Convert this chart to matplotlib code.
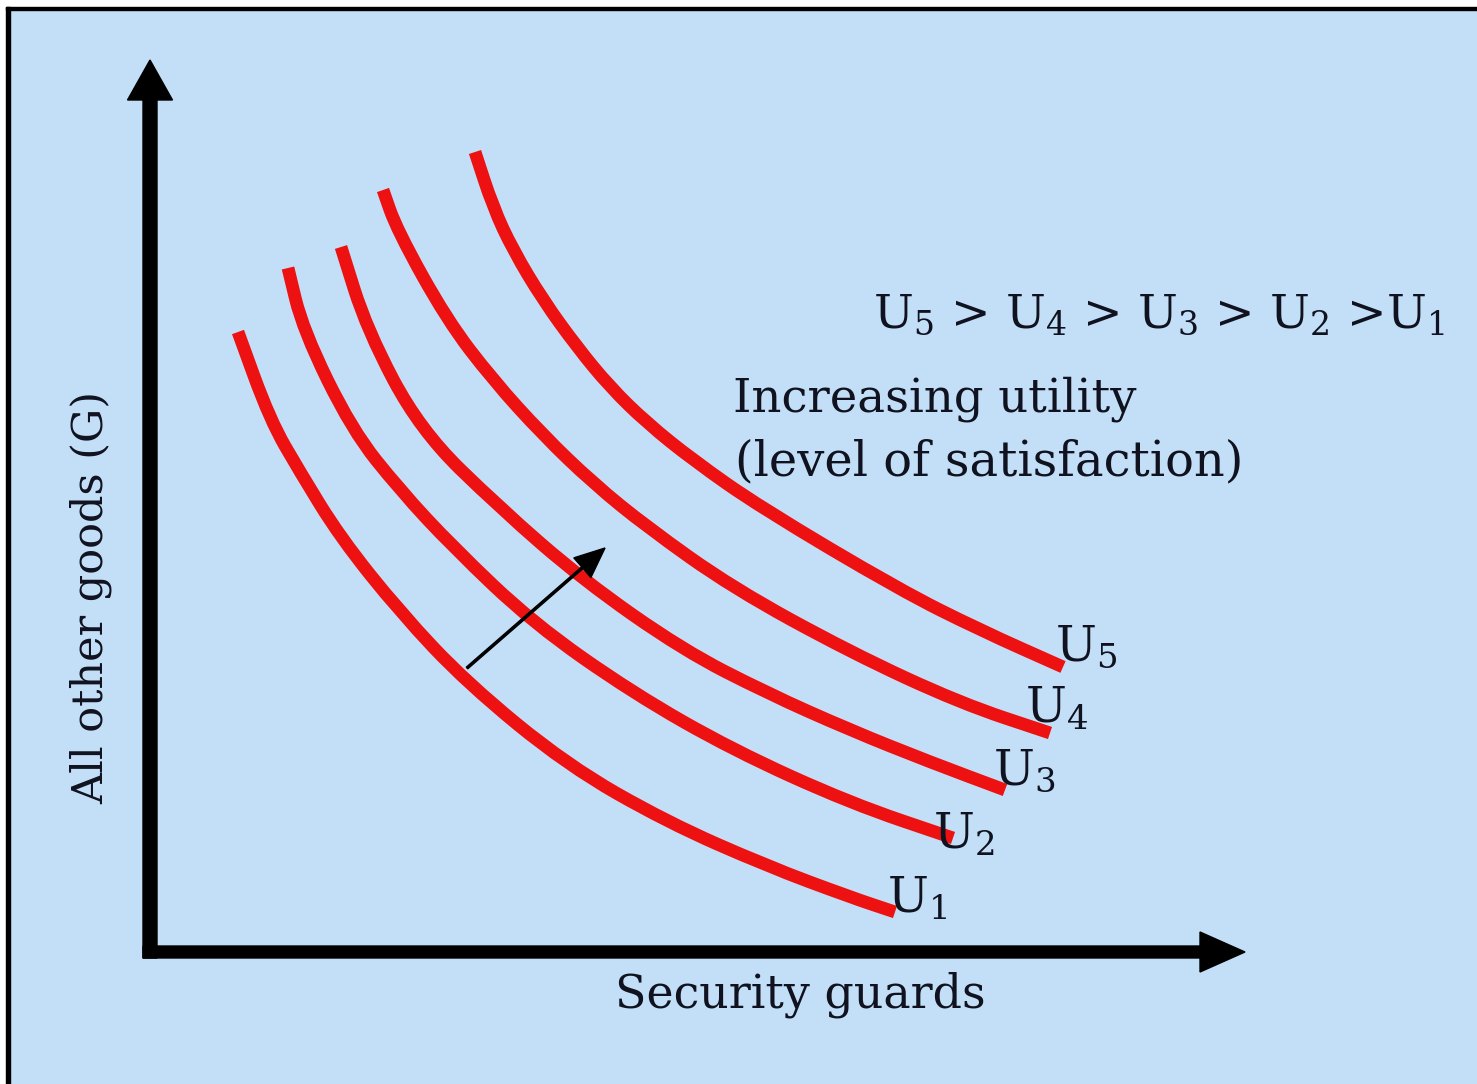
# Indifference curves: security guards vs all other goods
# five utility levels, U5 > U4 > U3 > U2 > U1

import matplotlib
matplotlib.use("Agg")
import matplotlib.pyplot as plt
from matplotlib.patches import Rectangle, PathPatch
from matplotlib.path import Path

plt.rcParams['font.family'] = ['DejaVu Serif']
plt.rcParams['mathtext.fontset'] = 'dejavuserif'

# points (guards, other goods)
u1_x = [0.88, 1.20, 1.50, 1.90, 2.50, 3.17, 4.17, 5.17, 6.17, 7.00, 7.45]
u1_y = [6.20, 5.32, 4.80, 4.15, 3.40, 2.69, 1.87, 1.30, 0.86, 0.55, 0.40]

u2_x = [1.38, 1.53, 2.02, 2.50, 3.03, 3.83, 4.83, 5.83, 7.00, 8.03]
u2_y = [6.84, 6.22, 5.22, 4.62, 4.05, 3.29, 2.59, 2.02, 1.49, 1.14]

u3_x = [1.91, 2.17, 2.70, 3.50, 4.33, 5.33, 6.17, 7.00, 7.80, 8.55]
u3_y = [7.05, 6.22, 5.22, 4.44, 3.72, 3.02, 2.59, 2.22, 1.90, 1.62]

u4_x = [2.33, 2.47, 2.97, 3.43, 3.93, 4.43, 4.97, 5.83, 7.00, 8.10, 9.00]
u4_y = [7.62, 7.22, 6.32, 5.72, 5.17, 4.69, 4.25, 3.64, 3.00, 2.49, 2.19]

u5_x = [3.25, 3.43, 3.63, 3.93, 4.27, 4.60, 4.97, 5.43, 6.10, 7.50, 8.30, 9.13]
u5_y = [8.00, 7.45, 7.02, 6.52, 6.05, 5.65, 5.29, 4.92, 4.45, 3.62, 3.22, 2.85]

curve_names = ["1", "2", "3", "4", "5"]
curves_x = [u1_x, u2_x, u3_x, u4_x, u5_x]
curves_y = [u1_y, u2_y, u3_y, u4_y, u5_y]

bg = "#c3dff8"
red = "#ee1111"
ink = "#10131f"


def smooth_path(xs, ys):
    # quadratic bezier through the midpoints, read points act as control points
    pts = list(zip(xs, ys))
    verts = [pts[0]]
    codes = [Path.MOVETO]
    mid = ((pts[0][0] + pts[1][0]) / 2, (pts[0][1] + pts[1][1]) / 2)
    verts.append(mid)
    codes.append(Path.LINETO)
    for i in range(1, len(pts) - 1):
        nxt = ((pts[i][0] + pts[i + 1][0]) / 2, (pts[i][1] + pts[i + 1][1]) / 2)
        verts += [pts[i], nxt]
        codes += [Path.CURVE3, Path.CURVE3]
    verts.append(pts[-1])
    codes.append(Path.LINETO)
    return Path(verts, codes)


fig = plt.figure(figsize=(14.77, 10.84), dpi=100, facecolor=bg)
ax = fig.add_axes([0, 0, 1, 1])
ax.set_facecolor(bg)
ax.set_xlim(-1.5, 13.27)
ax.set_ylim(-1.32, 9.52)
ax.axis("off")

# frame: white margin then black line on left and top
W, H = 1477.0, 1084.0
fig.patches.append(Rectangle((0, 0), 6 / W, 1, transform=fig.transFigure, color="white", zorder=0))
fig.patches.append(Rectangle((0, 1 - 7 / H), 1, 7 / H, transform=fig.transFigure, color="white", zorder=0))
fig.patches.append(Rectangle((6 / W, 0), 4 / W, 1 - 7 / H, transform=fig.transFigure, color="black", zorder=0))
fig.patches.append(Rectangle((6 / W, 1 - 10 / H), 1, 3 / H, transform=fig.transFigure, color="black", zorder=0))

# axes arrows
ax.arrow(0, -0.06, 0, 8.98, width=0.14, head_width=0.45, head_length=0.40,
         length_includes_head=True, color="black", zorder=3)
ax.arrow(-0.07, 0, 11.02, 0, width=0.12, head_width=0.40, head_length=0.45,
         length_includes_head=True, color="black", zorder=3)

for xs, ys in zip(curves_x, curves_y):
    ax.add_patch(PathPatch(smooth_path(xs, ys), fill=False, edgecolor=red, lw=9.2,
                           capstyle="butt", joinstyle="round", zorder=2))

# curve labels
label_pos = [(7.37, 0.39), (7.83, 1.04), (8.43, 1.67), (8.75, 2.29), (9.05, 2.92)]
for name, (lx, ly) in zip(curve_names, label_pos):
    ax.text(lx, ly, r"U$_{%s}$" % name, fontsize=35, color=ink, ha="left", va="baseline", zorder=4)

# direction of increasing utility
ax.arrow(3.17, 2.84, 1.38, 1.20, width=0.022, head_width=0.26, head_length=0.30,
         length_includes_head=True, color="black", zorder=3)

ax.text(7.23, 6.24, r"U$_5$ > U$_4$ > U$_3$ > U$_2$ >U$_1$", fontsize=34, color=ink,
        ha="left", va="baseline")
ax.text(5.83, 5.40, "Increasing utility", fontsize=33.5, color=ink, ha="left", va="baseline")
ax.text(5.85, 4.77, "(level of satisfaction)", fontsize=34.5, color=ink, ha="left", va="baseline")

ax.text(6.50, -0.56, "Security guards", fontsize=33, color=ink, ha="center", va="baseline")
ax.text(-0.47, 3.55, "All other goods (G)", fontsize=31, color=ink, rotation=90,
        rotation_mode="anchor", ha="center", va="baseline")

plt.savefig("out.png", dpi=100, facecolor=bg)
